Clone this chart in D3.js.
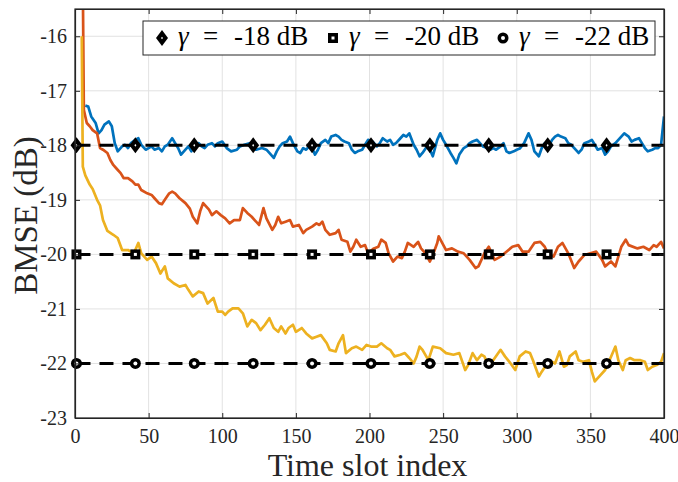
<!DOCTYPE html>
<html>
<head>
<meta charset="utf-8">
<script src="https://cdn.jsdelivr.net/npm/d3@7"></script>
<style>
  body { margin: 0; background: #fff; }
  svg text { font-family: "Liberation Serif", "Times New Roman", Times, serif !important; }
</style>
</head>
<body>
<svg id="chart" width="678" height="482"></svg>
<script>
// ---- data ----
var xTicks = [0, 50, 100, 150, 200, 250, 300, 350, 400];
var yTicks = [-23, -22, -21, -20, -19, -18, -17, -16];
var gammaLevels = [-18, -20, -22];
var legendLabels = ["-18 dB", "-20 dB", "-22 dB"];
var markerSlots = [1, 41, 81, 121, 161, 201, 241, 281, 321, 361];

// gamma = -18 dB (blue)
var slotsA = [7, 9, 11, 14, 16, 18, 20, 23, 25, 27, 29, 32, 34, 36, 38, 41, 43, 45, 48, 50, 52, 54, 57, 59, 61, 63, 66, 68, 70, 72, 75, 77, 79, 81, 84, 86, 88, 90, 93, 95, 97, 100, 103, 106, 110, 112, 115, 119, 121, 123, 127, 130, 132, 135, 137, 139, 141, 144, 146, 148, 151, 153, 155, 157, 160, 162, 163, 165, 167, 170, 172, 174, 177, 179, 181, 183, 186, 188, 190, 192, 195, 197, 199, 202, 205, 207, 209, 212, 214, 216, 218, 221, 223, 225, 227, 230, 232, 234, 236, 239, 241, 243, 246, 248, 250, 252, 255, 257, 259, 261, 264, 266, 268, 270, 273, 275, 277, 280, 282, 284, 286, 289, 291, 293, 295, 298, 300, 302, 305, 307, 308, 310, 312, 315, 317, 319, 321, 324, 326, 328, 330, 333, 335, 337, 340, 342, 344, 346, 349, 351, 353, 355, 358, 360, 362, 364, 367, 369, 371, 373, 376, 378, 380, 383, 385, 387, 389, 392, 394, 396, 398, 400];
var bmseA = [-17.27, -17.29, -17.47, -17.59, -17.78, -17.72, -17.62, -17.56, -17.65, -17.96, -18.11, -18.02, -17.99, -18.05, -17.96, -17.90, -17.87, -17.99, -18.08, -18.05, -18.02, -18.08, -18.05, -18.11, -18.02, -17.99, -17.87, -17.96, -18.05, -18.17, -18.08, -18.02, -18.11, -18.02, -17.96, -18.02, -18.05, -17.99, -17.96, -18.02, -17.96, -17.93, -18.05, -18.11, -18.08, -18.02, -17.99, -17.96, -18.05, -18.08, -18.05, -18.08, -18.14, -18.23, -18.11, -18.02, -17.96, -17.93, -17.84, -17.96, -18.11, -18.14, -18.05, -18.08, -17.99, -18.11, -18.17, -18.08, -17.96, -17.90, -17.96, -17.84, -17.81, -17.84, -17.90, -17.93, -17.96, -18.08, -18.14, -18.11, -18.08, -17.99, -17.90, -17.93, -18.02, -17.96, -17.87, -17.93, -17.90, -17.99, -17.96, -17.87, -17.81, -17.84, -17.78, -17.99, -18.08, -18.20, -18.14, -18.02, -18.08, -18.20, -17.90, -17.78, -17.90, -17.99, -18.14, -18.23, -18.33, -18.17, -18.05, -18.02, -17.96, -17.93, -17.90, -17.96, -18.02, -18.05, -18.08, -18.05, -18.08, -18.02, -17.96, -18.11, -18.14, -18.11, -18.08, -18.06, -17.96, -17.84, -17.78, -17.90, -18.11, -18.20, -18.05, -17.96, -18.05, -17.90, -17.84, -17.81, -17.84, -17.87, -17.96, -17.99, -18.08, -18.14, -18.08, -17.96, -17.93, -17.90, -17.99, -18.08, -18.05, -18.17, -18.11, -18.02, -17.96, -17.90, -17.84, -17.78, -17.84, -17.93, -17.90, -17.87, -17.96, -18.05, -18.11, -18.08, -18.05, -18.05, -17.99, -17.47];

// gamma = -20 dB (orange)
var slotsB = [5, 6, 7, 8, 10, 12, 15, 17, 19, 22, 24, 26, 28, 31, 33, 36, 39, 41, 43, 45, 49, 52, 54, 57, 59, 61, 64, 66, 68, 71, 75, 78, 80, 83, 85, 87, 91, 93, 96, 99, 102, 105, 108, 112, 114, 117, 120, 122, 125, 128, 130, 134, 136, 138, 140, 143, 146, 148, 152, 155, 157, 161, 164, 166, 168, 170, 173, 177, 179, 181, 185, 187, 189, 191, 194, 197, 199, 203, 206, 208, 211, 213, 216, 219, 222, 224, 226, 230, 233, 235, 238, 241, 243, 246, 247, 252, 256, 260, 264, 268, 272, 274, 278, 281, 285, 289, 293, 297, 301, 304, 308, 312, 316, 319, 321, 325, 328, 331, 335, 339, 342, 346, 350, 354, 358, 360, 364, 367, 371, 374, 376, 382, 386, 390, 393, 395, 398, 400];
var bmseB = [-14.0, -17.35, -17.47, -17.59, -17.65, -17.72, -17.78, -18.05, -18.08, -18.14, -18.27, -18.36, -18.42, -18.51, -18.60, -18.60, -18.66, -18.72, -18.72, -18.82, -18.88, -18.91, -18.97, -19.06, -19.08, -19.00, -18.88, -18.85, -18.88, -18.97, -19.06, -19.16, -19.31, -19.43, -19.21, -19.06, -19.18, -19.28, -19.21, -19.28, -19.34, -19.43, -19.37, -19.37, -19.15, -19.24, -19.31, -19.37, -19.46, -19.15, -19.34, -19.55, -19.46, -19.31, -19.43, -19.40, -19.37, -19.49, -19.46, -19.61, -19.55, -19.49, -19.43, -19.46, -19.40, -19.55, -19.64, -19.61, -19.55, -19.73, -19.77, -19.95, -19.86, -19.73, -19.86, -19.83, -19.98, -19.89, -19.86, -19.73, -19.79, -19.98, -20.13, -20.04, -20.07, -19.95, -19.79, -19.86, -19.77, -19.89, -19.98, -20.13, -20.01, -19.79, -19.67, -19.92, -19.89, -19.95, -19.98, -20.10, -20.25, -20.22, -19.98, -19.86, -20.10, -20.04, -19.95, -19.86, -19.83, -19.95, -19.95, -19.79, -19.77, -19.86, -19.98, -20.04, -19.86, -19.79, -19.98, -20.25, -20.13, -20.01, -19.98, -19.95, -20.10, -20.22, -20.13, -20.22, -19.86, -19.73, -19.83, -19.89, -19.86, -19.92, -19.83, -19.86, -19.77, -19.89];

// gamma = -22 dB (yellow)
var slotsC = [4.6, 5.3, 7, 10, 12, 15, 17, 19, 22, 26, 29, 32, 36, 40, 43, 45, 49, 52, 55, 58, 61, 63, 67, 71, 75, 77, 80, 84, 87, 90, 94, 97, 100, 102, 104, 107, 111, 114, 117, 120, 123, 126, 129, 132, 135, 138, 140, 143, 145, 148, 150, 154, 157, 161, 164, 167, 171, 173, 177, 179, 182, 184, 188, 191, 195, 198, 201, 205, 208, 212, 214, 217, 221, 224, 227, 230, 232, 234, 236, 240, 243, 248, 252, 257, 261, 265, 267, 270, 273, 276, 278, 281, 284, 289, 292, 295, 299, 302, 306, 309, 311, 315, 317, 320, 324, 326, 329, 332, 334, 336, 340, 342, 345, 349, 351, 353, 357, 360, 363, 367, 369, 372, 374, 377, 380, 384, 387, 389, 392, 395, 398, 400];
var bmseC = [-16.0, -18.39, -18.55, -18.72, -18.80, -19.00, -19.10, -19.37, -19.57, -19.64, -19.70, -19.92, -19.92, -19.98, -19.79, -19.98, -20.10, -20.04, -20.16, -20.35, -20.22, -20.44, -20.53, -20.59, -20.56, -20.65, -20.77, -20.68, -20.71, -20.90, -20.80, -21.05, -21.05, -21.11, -21.05, -20.99, -20.99, -21.08, -21.32, -21.20, -21.26, -21.39, -21.29, -21.17, -21.35, -21.42, -21.32, -21.45, -21.35, -21.29, -21.42, -21.35, -21.45, -21.54, -21.51, -21.48, -21.63, -21.75, -21.78, -21.63, -21.48, -21.81, -21.72, -21.69, -21.75, -21.66, -21.69, -21.69, -21.63, -21.72, -21.75, -21.87, -21.84, -21.81, -21.90, -22.00, -21.87, -21.69, -21.75, -21.94, -21.69, -21.72, -21.81, -21.84, -21.81, -22.12, -22.03, -21.81, -21.94, -21.84, -21.87, -22.06, -21.94, -21.75, -21.87, -21.97, -22.12, -21.87, -21.78, -21.81, -21.94, -22.24, -22.15, -22.03, -21.97, -22.00, -21.78, -22.06, -22.03, -21.87, -21.78, -21.94, -21.97, -21.94, -22.15, -22.33, -22.21, -22.12, -21.94, -21.69, -21.94, -22.12, -21.94, -21.90, -21.94, -21.94, -21.97, -22.12, -22.06, -22.03, -21.97, -21.81];

var seriesColors = ["#0072BD", "#D95319", "#EDB120"];
var serif = "'Liberation Serif', 'Times New Roman', Times, serif";

// ---- layout ----
var svg = d3.select("#chart");
var margin = { top: 9, right: 14, bottom: 64, left: 75 };
var W = 678, H = 482;
var pw = W - margin.left - margin.right;
var ph = H - margin.top - margin.bottom;

var x = d3.scaleLinear().domain([0, 400]).range([0, pw]);
var y = d3.scaleLinear().domain([-23, -15.5]).range([ph, 0]);

var g = svg.append("g").attr("transform", "translate(" + margin.left + "," + margin.top + ")");

g.append("rect").attr("width", pw).attr("height", ph).attr("fill", "#fff");

// grid
g.selectAll(".vgrid").data(xTicks).enter().append("line")
    .attr("x1", d => x(d)).attr("x2", d => x(d))
    .attr("y1", 0).attr("y2", ph)
    .attr("stroke", "#e2e2e2").attr("stroke-width", 1);
g.selectAll(".hgrid").data(yTicks).enter().append("line")
    .attr("x1", 0).attr("x2", pw)
    .attr("y1", d => y(d)).attr("y2", d => y(d))
    .attr("stroke", "#e2e2e2").attr("stroke-width", 1);

// clip
svg.append("defs").append("clipPath").attr("id", "plotclip")
    .append("rect").attr("width", pw).attr("height", ph);

var line = d3.line().x(d => x(d[0])).y(d => y(d[1]));
var curves = [d3.zip(slotsA, bmseA), d3.zip(slotsB, bmseB), d3.zip(slotsC, bmseC)];

var plot = g.append("g").attr("clip-path", "url(#plotclip)");
curves.forEach(function (pts, i) {
    plot.append("path").datum(pts)
        .attr("d", line)
        .attr("fill", "none")
        .attr("stroke", seriesColors[i])
        .attr("stroke-width", 2.7)
        .attr("stroke-linejoin", "round");
});

// marker shapes: thick black outline, tiny white hole (matlab look)
var diamondOuter = { draw: function (c) { c.moveTo(0, -8); c.lineTo(6, 0); c.lineTo(0, 8); c.lineTo(-6, 0); c.closePath(); } };
var diamondInner = { draw: function (c) { c.moveTo(0, -1.3); c.lineTo(1, 0); c.lineTo(0, 1.3); c.lineTo(-1, 0); c.closePath(); } };
var squareOuter = { draw: function (c) { c.rect(-5, -5, 10, 10); } };
var squareInner = { draw: function (c) { c.rect(-1.5, -1.5, 3, 3); } };
var circleOuter = { draw: function (c) { c.moveTo(5.5, 0); c.arc(0, 0, 5.5, 0, 2 * Math.PI); } };
var circleInner = { draw: function (c) { c.moveTo(2, 0); c.arc(0, 0, 2, 0, 2 * Math.PI); } };
var outers = [diamondOuter, squareOuter, circleOuter];
var inners = [diamondInner, squareInner, circleInner];

function drawMarker(sel, i) {
    sel.append("path").attr("d", d3.symbol().type(outers[i])).attr("fill", "#000");
    sel.append("path").attr("d", d3.symbol().type(inners[i])).attr("fill", "#fff");
}

// reference lines (dashed black) with markers
gammaLevels.forEach(function (lv, i) {
    plot.append("path").datum([[1, lv], [400, lv]])
        .attr("d", line)
        .attr("fill", "none")
        .attr("stroke", "#000")
        .attr("stroke-width", 3)
        .attr("stroke-dasharray", "14,9");
    g.selectAll(".mk" + i).data(markerSlots).enter().append("g")
        .attr("transform", d => "translate(" + x(d) + "," + y(lv) + ")")
        .each(function () { drawMarker(d3.select(this), i); });
});

// axes (ticks point inward, MATLAB style)
var axisColor = "#262626";
var fmt = d => String(d);
var xb = g.append("g").attr("transform", "translate(0," + ph + ")")
    .call(d3.axisBottom(x).tickValues(xTicks).tickFormat(fmt).tickSizeInner(-5).tickSizeOuter(0).tickPadding(11));
var xt = g.append("g")
    .call(d3.axisTop(x).tickValues(xTicks).tickFormat("").tickSizeInner(-5).tickSizeOuter(0));
var yl = g.append("g")
    .call(d3.axisLeft(y).tickValues(yTicks).tickFormat(fmt).tickSizeInner(-5).tickSizeOuter(0).tickPadding(8));
var yr = g.append("g").attr("transform", "translate(" + pw + ",0)")
    .call(d3.axisRight(y).tickValues(yTicks).tickFormat("").tickSizeInner(-5).tickSizeOuter(0));

[xb, xt, yl, yr].forEach(function (a) {
    a.attr("font-family", serif);
    a.select(".domain").attr("stroke", axisColor).attr("stroke-width", 1.2);
    a.selectAll(".tick line").attr("stroke", axisColor);
    a.selectAll(".tick text").attr("font-size", 20).attr("fill", axisColor)
        .style("font-family", serif);
});
g.append("rect").attr("width", pw).attr("height", ph)
    .attr("fill", "none").attr("stroke", axisColor).attr("stroke-width", 1.2);

// axis titles
svg.append("text")
    .attr("x", margin.left + pw / 2 - 2).attr("y", 476)
    .attr("text-anchor", "middle").attr("font-size", 32).attr("fill", axisColor)
    .style("font-family", serif)
    .text("Time slot index");
svg.append("text")
    .attr("transform", "translate(37," + (margin.top + ph / 2 + 2) + ") rotate(-90)")
    .attr("text-anchor", "middle").attr("font-size", 33).attr("fill", axisColor)
    .style("font-family", serif)
    .text("BMSE (dB)");

// legend
var leg = svg.append("g");
leg.append("rect").attr("x", 143).attr("y", 21).attr("width", 512).attr("height", 34)
    .attr("fill", "#fff").attr("stroke", axisColor).attr("stroke-width", 1);
var legX = [162, 333, 503];
legendLabels.forEach(function (lab, i) {
    var cx = legX[i];
    var mk = leg.append("g").attr("transform", "translate(" + cx + ",38)");
    drawMarker(mk, i);
    var tx = leg.append("text").attr("y", 45).attr("font-size", 27).attr("fill", "#000")
        .style("font-family", serif);
    tx.append("tspan").attr("x", cx + 16).attr("font-style", "italic").text("\u03B3");
    tx.append("tspan").attr("x", cx + 41).text("=");
    tx.append("tspan").attr("x", cx + 72).text(lab);
});
</script>
</body>
</html>
